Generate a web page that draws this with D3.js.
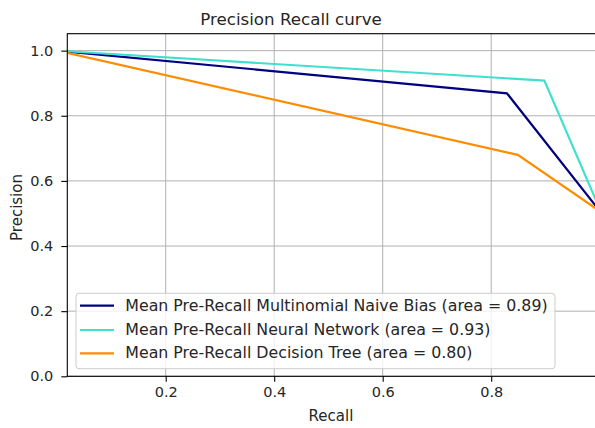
<!DOCTYPE html>
<html><head><meta charset="utf-8">
<script src="https://cdn.jsdelivr.net/npm/d3@7"></script>
<style>body{margin:0;background:#fff}svg{display:block}text{font-family:"DejaVu Sans",sans-serif;fill:#262626}</style>
</head><body><svg id="c" width="595" height="428"></svg>
<script>
const seriesNames = ["Mean Pre-Recall Multinomial Naive Bias (area = 0.89)","Mean Pre-Recall Neural Network (area = 0.93)","Mean Pre-Recall Decision Tree (area = 0.80)"];
const seriesColors = ["navy","turquoise","darkorange"];
const recallNB = [0, 0.829, 1.0];
const precisionNB = [1.0, 0.869, 0.508];
const recallNN = [0, 0.898, 1.0];
const precisionNN = [1.0, 0.908, 0.514];
const recallDT = [0, 0.849, 1.0];
const precisionDT = [1.0, 0.680, 0.507];
const xTicks = [0.2, 0.4, 0.6, 0.8];
const yTicks = [0.0, 0.2, 0.4, 0.6, 0.8, 1.0];

const series = [[recallNB,precisionNB],[recallNN,precisionNN],[recallDT,precisionDT]].map((s,i)=>({name:seriesNames[i],color:seriesColors[i],pts:s[0].map((r,j)=>[r,s[1][j]])}));

const svg = d3.select("#c");
const L=67.3, R=599.7, T=33.7, B=376.3;
const x = d3.scaleLinear().domain([0.0186,1.0]).range([L,R]);
const y = d3.scaleLinear().domain([0,1.052]).range([B,T]);

svg.append("defs").append("clipPath").attr("id","clip").append("rect").attr("x",L).attr("y",T).attr("width",R-L).attr("height",B-T);

// grid
const g = svg.append("g");
g.selectAll(".vg").data(xTicks).enter().append("line").attr("x1",d=>x(d)).attr("x2",d=>x(d)).attr("y1",T).attr("y2",B).attr("stroke","#b0b0b0").attr("stroke-width",1);
g.selectAll(".hg").data(yTicks).enter().append("line").attr("x1",L).attr("x2",R).attr("y1",d=>y(d)).attr("y2",d=>y(d)).attr("stroke","#b0b0b0").attr("stroke-width",1);

// lines
const line = d3.line().x(d=>x(d[0])).y(d=>y(d[1]));
svg.append("g").attr("clip-path","url(#clip)").selectAll("path").data(series).enter().append("path")
  .attr("d",d=>line(d.pts)).attr("fill","none").attr("stroke",d=>d.color).attr("stroke-width",2.2).attr("stroke-linejoin","miter");

// axes
const xAxis = d3.axisBottom(x).tickValues(xTicks).tickFormat(d3.format(".1f")).tickSize(5.5).tickPadding(5);
const yAxis = d3.axisLeft(y).tickValues(yTicks).tickFormat(d3.format(".1f")).tickSize(6).tickPadding(8);
const ax = svg.append("g").attr("transform",`translate(0,${B})`).call(xAxis);
const ay = svg.append("g").attr("transform",`translate(${L},0)`).call(yAxis);
[ax,ay].forEach(a=>{a.select(".domain").remove();a.selectAll("line").attr("stroke","#000").attr("stroke-width",1.1);a.selectAll("text").attr("font-size",14.5).attr("font-family","DejaVu Sans").attr("fill","#262626");});
// spines
svg.append("rect").attr("x",L).attr("y",T).attr("width",R-L).attr("height",B-T).attr("fill","none").attr("stroke","#000").attr("stroke-width",1.1);

// labels
svg.append("text").attr("x",291).attr("y",25).attr("text-anchor","middle").attr("font-size",16.7).text("Precision Recall curve");
svg.append("text").attr("x",331).attr("y",420.5).attr("text-anchor","middle").attr("font-size",15).text("Recall");
svg.append("text").attr("transform","translate(21.5,207.5) rotate(-90)").attr("text-anchor","middle").attr("font-size",15).text("Precision");

// legend
const lg = svg.append("g");
lg.append("rect").attr("x",76).attr("y",293.3).attr("width",479).attr("height",75.4).attr("rx",3).attr("fill","#fff").attr("fill-opacity",0.8).attr("stroke","#cccccc").attr("stroke-width",1);
const rowsY = [305.7,330,353.3];
series.forEach((s,i)=>{
  lg.append("line").attr("x1",80).attr("x2",114).attr("y1",rowsY[i]).attr("y2",rowsY[i]).attr("stroke",s.color).attr("stroke-width",2.2);
  lg.append("text").attr("x",125.3).attr("y",rowsY[i]+4.8).attr("font-size",15.8).text(s.name);
});
</script></body></html>
